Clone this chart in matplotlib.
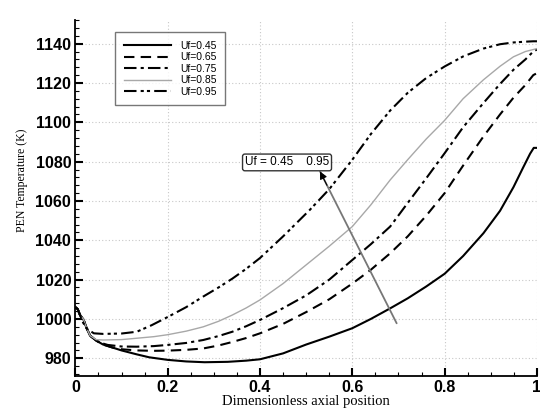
import matplotlib
matplotlib.use("Agg")
import matplotlib.pyplot as plt
from matplotlib.ticker import MultipleLocator

# PEN temperature along the cell for several fuel utilisations
x_045 = [0, 0.005, 0.01, 0.017, 0.025, 0.032, 0.045, 0.06, 0.08, 0.1, 0.133, 0.16, 0.2,
         0.24, 0.28, 0.33, 0.37, 0.4, 0.45, 0.5, 0.55, 0.6, 0.64, 0.682, 0.72, 0.76, 0.8,
         0.84, 0.884, 0.92, 0.949, 0.97, 0.985, 0.993, 1.0]
T_045 = [1006, 1005, 1002, 1000, 995, 991.5, 989, 987, 985.5, 984, 982, 980.5, 979.2,
         978.4, 978, 978.2, 978.8, 979.5, 982.5, 987, 991, 995.3, 1000, 1005.4, 1010.5, 1016.5, 1023,
         1032, 1043.6, 1055, 1067, 1077, 1084, 1087, 1087]

x_065 = [0, 0.005, 0.01, 0.017, 0.025, 0.032, 0.045, 0.06, 0.08, 0.1, 0.133, 0.17, 0.2,
         0.24, 0.277, 0.31, 0.34, 0.37, 0.4, 0.45, 0.5, 0.55, 0.6, 0.64, 0.682, 0.72, 0.76,
         0.8, 0.84, 0.884, 0.92, 0.949, 0.975, 0.992, 1.0]
T_065 = [1006, 1005, 1002, 1000, 995, 991.5, 989, 987, 985.5, 984.6, 984, 983.8, 983.9,
         984.3, 985, 986.5, 988.3, 990.3, 992.7, 997.5, 1003.5, 1010, 1018, 1025, 1033.4, 1042, 1052.5,
         1064, 1078, 1092.8, 1104, 1112.5, 1119, 1124, 1125]

x_075 = [0, 0.005, 0.01, 0.017, 0.025, 0.032, 0.045, 0.06, 0.07, 0.1, 0.133, 0.17, 0.2,
         0.24, 0.277, 0.31, 0.34, 0.37, 0.4, 0.45, 0.5, 0.55, 0.6, 0.64, 0.682, 0.72, 0.76,
         0.8, 0.84, 0.884, 0.92, 0.949, 0.975, 0.992, 1.0]
T_075 = [1006, 1005, 1002, 1000, 995, 991.5, 989, 987.5, 986.8, 986, 985.9, 986.2, 986.8,
         987.8, 989.3, 991.3, 993.5, 996.3, 999.5, 1005.5, 1012, 1020, 1030, 1038, 1047, 1059, 1071.5,
         1084.3, 1097.5, 1109.8, 1119.5, 1126.7, 1132, 1136, 1137]

x_085 = [0, 0.005, 0.01, 0.017, 0.025, 0.032, 0.045, 0.06, 0.1, 0.133, 0.17, 0.2, 0.24,
         0.277, 0.31, 0.34, 0.37, 0.4, 0.45, 0.5, 0.55, 0.6, 0.64, 0.682, 0.72, 0.76, 0.8,
         0.84, 0.884, 0.92, 0.949, 0.975, 0.992, 1.0]
T_085 = [1006, 1005, 1002, 1000, 995, 991.5, 989.5, 989.3, 989.5, 990.2, 991, 992, 993.8,
         996, 998.8, 1002, 1005.6, 1009.7, 1018, 1027.5, 1037, 1047, 1058, 1070.7, 1081, 1091.5, 1101,
         1112, 1121.6, 1128.5, 1133.3, 1136, 1137, 1137.5]

x_095 = [0, 0.005, 0.01, 0.017, 0.025, 0.04, 0.06, 0.1, 0.133, 0.165, 0.2, 0.24, 0.277,
         0.31, 0.34, 0.37, 0.4, 0.45, 0.508, 0.55, 0.6, 0.64, 0.682, 0.72, 0.76, 0.8, 0.84,
         0.884, 0.92, 0.949, 0.975, 0.992, 1.0]
T_095 = [1006, 1005, 1002, 998, 995, 992.7, 992.4, 992.6, 993.5, 996.8, 1001, 1006, 1011.4,
         1016, 1020.5, 1025.5, 1031, 1042, 1055.5, 1066, 1081, 1094, 1106, 1115, 1122.5, 1128.4, 1133.5,
         1137.5, 1139.7, 1140.6, 1141, 1141.2, 1141.2]

labels = ["Uf=0.45", "Uf=0.65", "Uf=0.75", "Uf=0.85", "Uf=0.95"]

fig = plt.figure(figsize=(5.4, 4.09), dpi=100)
ax = fig.add_axes([0.1396, 0.0807, 0.8548, 0.8703])

ax.plot(x_045, T_045, color="black", lw=1.5, ls="-", label=labels[0])
ax.plot(x_065, T_065, color="black", lw=1.5, ls=(0, (5, 3)), label=labels[1])
ax.plot(x_075, T_075, color="black", lw=1.5, ls=(0, (6, 2, 1.5, 2)), label=labels[2])
ax.plot(x_085, T_085, color="#a8a8a8", lw=1.0, ls="-", label=labels[3])
ax.plot(x_095, T_095, color="black", lw=1.5, ls=(0, (6, 2, 1.5, 1.5, 1.5, 2)), label=labels[4])

ax.set_xlim(0, 1)
ax.set_ylim(971, 1152)
ax.xaxis.set_minor_locator(MultipleLocator(0.05))
ax.yaxis.set_major_locator(MultipleLocator(20))
ax.yaxis.set_minor_locator(MultipleLocator(4))
ax.set_xticks([0, 0.2, 0.4, 0.6, 0.8, 1.0])
ax.set_xticklabels(["0", "0.2", "0.4", "0.6", "0.8", "1"])

ax.tick_params(which="major", direction="in", length=6, width=1.5, pad=3)
ax.tick_params(which="minor", direction="in", length=3, width=0.8)
for lab in ax.get_xticklabels() + ax.get_yticklabels():
    lab.set_family("Liberation Sans")
    lab.set_fontweight("bold")
    lab.set_fontsize(11.5)

ax.spines["top"].set_visible(False)
ax.spines["right"].set_visible(False)
ax.spines["left"].set_linewidth(1.3)
ax.spines["bottom"].set_linewidth(1.3)

ax.grid(True, which="major", color="#c8c8c8", ls=(0, (1, 2)), lw=0.8)

ax.set_xlabel("Dimensionless axial position", family="Liberation Serif", fontsize=10.5, labelpad=0)
ax.set_ylabel("PEN Temperature (K)", family="Liberation Serif", fontsize=8.5)
ax.yaxis.set_label_coords(-0.102, 0.55)

leg = ax.legend(loc="upper left", bbox_to_anchor=(0.075, 0.98), fontsize=7.5, frameon=True,
                fancybox=False, handlelength=4.6, handletextpad=0.8, labelspacing=0.15,
                borderpad=0.8)
leg.get_frame().set_edgecolor("#555555")
leg.get_frame().set_linewidth(1.0)
for t in leg.get_texts():
    t.set_family("Liberation Sans")

# grey shaft with a black head
ax.annotate("", xy=(0.530, 1075), xytext=(0.696, 997.8),
            arrowprops=dict(arrowstyle="-", color="#777777", lw=1.3, shrinkA=0, shrinkB=0))
ax.annotate("", xy=(0.530, 1075), xytext=(0.545, 1068),
            arrowprops=dict(arrowstyle="-|>", color="black", lw=0.8,
                            mutation_scale=11, shrinkA=0, shrinkB=0))
ax.text(0.4585, 1079.6, "Uf = 0.45    0.95", fontsize=8.5, family="Liberation Sans",
        ha="center", va="center",
        bbox=dict(boxstyle="round,pad=0.2", fc="white", ec="#333333", lw=1.0))

fig.savefig("out.png", dpi=100)
